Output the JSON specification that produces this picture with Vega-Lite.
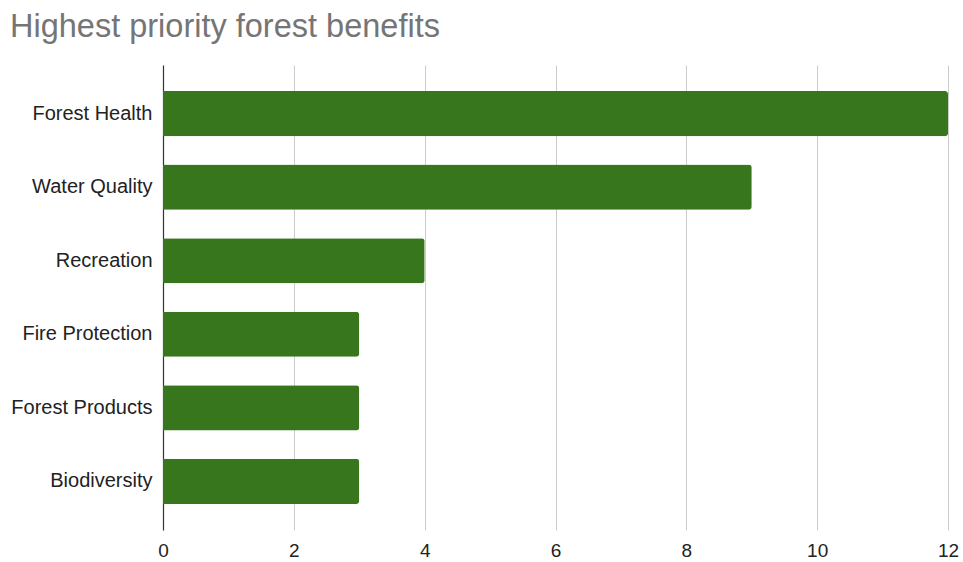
{
  "$schema": "https://vega.github.io/schema/vega-lite/v6.json",
  "width": 785,
  "height": 465,
  "autosize": {"type": "none"},
  "padding": {"left": 163, "top": 65, "right": 15, "bottom": 32},
  "background": "white",
  "title": {
    "text": "Highest priority forest benefits",
    "anchor": "start",
    "frame": "group",
    "dx": -153,
    "fontSize": 32.5,
    "font": "Liberation Sans",
    "fontWeight": "normal",
    "color": "#757575",
    "offset": 22
  },
  "data": {
    "values": [
      {"benefit": "Forest Health", "count": 12},
      {"benefit": "Water Quality", "count": 9},
      {"benefit": "Recreation", "count": 4},
      {"benefit": "Fire Protection", "count": 3},
      {"benefit": "Forest Products", "count": 3},
      {"benefit": "Biodiversity", "count": 3}
    ]
  },
  "mark": {"type": "bar", "color": "#38761d", "cornerRadiusEnd": 3},
  "encoding": {
    "y": {
      "field": "benefit",
      "type": "nominal",
      "sort": null,
      "title": null,
      "scale": {"paddingInner": 0.387, "paddingOuter": 0.354},
      "axis": {
        "labelFont": "Liberation Sans",
        "labelFontSize": 20,
        "labelColor": "#222222",
        "ticks": false,
        "labelPadding": 11,
        "labelLimit": 200,
        "domainColor": "#333333",
        "domainWidth": 1.2
      }
    },
    "x": {
      "field": "count",
      "type": "quantitative",
      "title": null,
      "scale": {"domain": [0, 12], "nice": false},
      "axis": {
        "values": [0, 2, 4, 6, 8, 10, 12],
        "grid": true,
        "gridColor": "#cccccc",
        "domain": false,
        "ticks": false,
        "labelFlush": false,
        "labelPadding": 11,
        "labelFont": "Liberation Sans",
        "labelFontSize": 19,
        "labelColor": "#222222"
      }
    }
  },
  "config": {"view": {"stroke": null}}
}
